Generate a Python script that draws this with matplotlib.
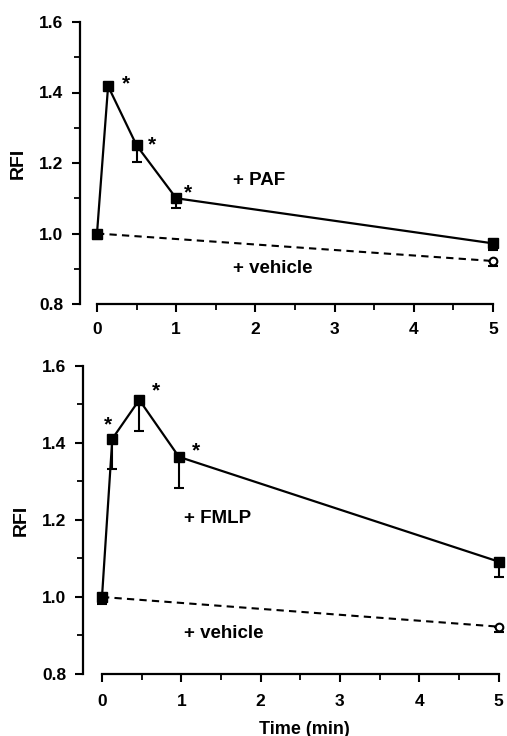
import matplotlib
matplotlib.use("Agg")
import matplotlib.pyplot as plt
from matplotlib.ticker import MultipleLocator

plt.rcParams['font.family'] = ['Liberation Sans', 'DejaVu Sans']
plt.rcParams['font.weight'] = 'bold'

# Top panel (PAF)
paf_t = [0, 0.14, 0.5, 1, 5]
paf_y = [1.00, 1.418, 1.25, 1.10, 0.972]
paf_err = [0.016, 0.01, 0.048, 0.027, 0.018]
veh1_t = [0, 5]
veh1_y = [1.00, 0.922]
veh1_err = [0.0, 0.014]
paf_star_x = [0.36, 0.70, 1.15]
paf_star_y = [1.425, 1.25, 1.115]

# Bottom panel (FMLP)
fmlp_t = [0, 0.13, 0.47, 0.97, 5]
fmlp_y = [1.00, 1.411, 1.512, 1.364, 1.092]
fmlp_err = [0.018, 0.079, 0.08, 0.08, 0.039]
veh2_t = [0, 5]
veh2_y = [1.00, 0.923]
veh2_err = [0.0, 0.014]
fmlp_star_x = [0.08, 0.675, 1.19]
fmlp_star_y = [1.448, 1.535, 1.38]

xticks = [0, 1, 2, 3, 4, 5]
yticks = [0.8, 1.0, 1.2, 1.4, 1.6]

fig = plt.figure(figsize=(5.07, 7.36), dpi=100)
W, H = 507, 736
TICK_FS = 12.5
ANN_FS = 13.5
STAR_FS = 15

def make_ax(left_px, right_px, top_px, bottom_px, x0_px, unit_px, xpad):
    ax = fig.add_axes([left_px / W, 1 - bottom_px / H, (right_px - left_px) / W, (bottom_px - top_px) / H])
    ax.set_xlim((left_px - x0_px) / unit_px, (right_px - x0_px) / unit_px)
    ax.set_ylim(0.8, 1.6)
    for s in ['top', 'right']:
        ax.spines[s].set_visible(False)
    ax.spines['bottom'].set_bounds(0, 5)
    ax.spines['left'].set_linewidth(1.6)
    ax.spines['bottom'].set_linewidth(1.6)
    ax.set_xticks(xticks)
    ax.set_xticklabels([str(v) for v in xticks])
    ax.set_yticks(yticks)
    ax.set_yticklabels([f"{v:.1f}" for v in yticks])
    ax.xaxis.set_minor_locator(MultipleLocator(0.5))
    ax.yaxis.set_minor_locator(MultipleLocator(0.1))
    ax.tick_params(which='major', direction='out', length=6, width=1.5, labelsize=TICK_FS)
    ax.tick_params(axis='x', which='major', pad=xpad)
    ax.tick_params(axis='y', which='major', pad=6)
    ax.tick_params(which='minor', direction='out', length=4, width=1.3)
    ax.set_ylabel('RFI', fontsize=14, fontweight='bold', labelpad=9)
    return ax

def draw(ax, t, y, err, vt, vy, verr):
    ax.plot(vt, vy, '--', color='black', lw=1.5, dashes=(3.5, 2.5), zorder=2, clip_on=False)
    ax.errorbar(vt[1:], vy[1:], yerr=[verr[1:], [0] * len(verr[1:])], fmt='o', ms=5.5,
                mfc='white', mec='black', mew=1.5, ecolor='black', elinewidth=1.5, capsize=3.5,
                capthick=1.5, zorder=4, clip_on=False)
    ax.plot(t, y, '-', color='black', lw=1.6, zorder=3, clip_on=False)
    ax.errorbar(t, y, yerr=[err, [0] * len(err)], fmt='s', ms=7, mfc='black', mec='black',
                ecolor='black', elinewidth=1.5, capsize=3.5, capthick=1.5, zorder=5, clip_on=False)

ax1 = make_ax(80, 500, 22, 304, 97, 79.2, 7)
draw(ax1, paf_t, paf_y, paf_err, veh1_t, veh1_y, veh1_err)
for sx, sy in zip(paf_star_x, paf_star_y):
    ax1.text(sx, sy, '*', fontsize=STAR_FS, fontweight='bold', ha='center', va='center')
ax1.text(1.72, 1.15, '+ PAF', fontsize=ANN_FS, fontweight='bold', ha='left', va='center')
ax1.text(1.72, 0.90, '+ vehicle', fontsize=ANN_FS, fontweight='bold', ha='left', va='center')

ax2 = make_ax(83, 505, 366, 674, 102, 79.3, 8.5)
draw(ax2, fmlp_t, fmlp_y, fmlp_err, veh2_t, veh2_y, veh2_err)
for sx, sy in zip(fmlp_star_x, fmlp_star_y):
    ax2.text(sx, sy, '*', fontsize=STAR_FS, fontweight='bold', ha='center', va='center')
ax2.text(1.03, 1.205, '+ FMLP', fontsize=ANN_FS, fontweight='bold', ha='left', va='center')
ax2.text(1.03, 0.906, '+ vehicle', fontsize=ANN_FS, fontweight='bold', ha='left', va='center')
ax2.set_xlabel('Time (min)', fontsize=13, fontweight='bold')
ax2.xaxis.set_label_coords((304 - 83) / (505 - 83), -(729 - 674) / (674 - 366))
ax2.xaxis.label.set_va('center')

fig.savefig('out.png', dpi=100, facecolor='white')
